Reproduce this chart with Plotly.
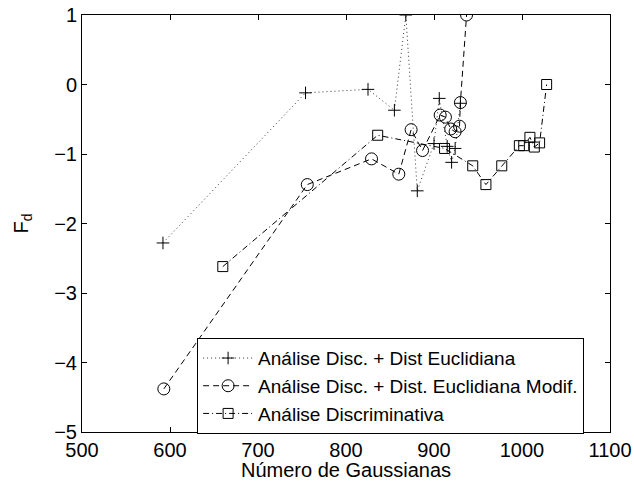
import plotly.graph_objects as go

# Número de Gaussianas vs F_d for three classifiers
x_euclid = [592, 754, 825, 855, 868, 881, 900, 906, 915, 920, 924, 930]
y_euclid = [-2.28, -0.12, -0.07, -0.37, 1.0, -1.53, -0.85, -0.20, -0.89, -1.12, -0.92, -0.27]

x_modif = [593, 756, 829, 860, 874, 887, 907, 913, 919, 924, 929, 930, 937]
y_modif = [-4.38, -1.44, -1.07, -1.29, -0.65, -0.95, -0.44, -0.47, -0.64, -0.68, -0.60, -0.26, 1.0]

x_discr = [660, 836, 912, 944, 959, 977, 997, 1002, 1009, 1014, 1020, 1028]
y_discr = [-2.62, -0.73, -0.92, -1.17, -1.44, -1.17, -0.88, -0.88, -0.76, -0.90, -0.84, 0.0]

names = [
    "Análise Disc. + Dist Euclidiana",
    "Análise Disc. + Dist. Euclidiana Modif.",
    "Análise Discriminativa",
]

x_ticks = [500, 600, 700, 800, 900, 1000, 1100]
y_ticks = [-5, -4, -3, -2, -1, 0, 1]

FONT = "Liberation Sans, Arial, Helvetica, sans-serif"
FS = 20

fig = go.Figure()
fig.add_trace(go.Scatter(
    x=x_euclid, y=y_euclid, name=names[0], mode="lines+markers",
    line=dict(color="#333333", width=1, dash="1px,3px"),
    marker=dict(symbol="cross-thin-open", size=9, color="black",
                line=dict(color="black", width=1)),
))
fig.add_trace(go.Scatter(
    x=x_modif, y=y_modif, name=names[1], mode="lines+markers",
    line=dict(color="black", width=1, dash="6px,4px"),
    marker=dict(symbol="circle-open", size=12, color="black",
                line=dict(color="black", width=1)),
))
fig.add_trace(go.Scatter(
    x=x_discr, y=y_discr, name=names[2], mode="lines+markers",
    line=dict(color="black", width=1, dash="6px,3px,1px,3px"),
    marker=dict(symbol="square-open", size=10, color="black",
                line=dict(color="black", width=1)),
))

axis_common = dict(
    showline=True, linecolor="black", linewidth=1, mirror="ticks",
    ticks="inside", ticklen=5, tickcolor="black", tickwidth=1,
    showgrid=False, zeroline=False, automargin=False,
    tickfont=dict(family=FONT, size=FS, color="black"),
)

fig.update_layout(
    width=634, height=483,
    margin=dict(l=82, r=24, t=15, b=51),
    paper_bgcolor="white", plot_bgcolor="white",
    font=dict(family=FONT, size=FS, color="black"),
    xaxis=dict(range=[500, 1100], tickvals=x_ticks, **axis_common),
    yaxis=dict(range=[-5, 1], tickvals=y_ticks,
               title=dict(text="F<sub>d</sub>", standoff=20,
                          font=dict(family=FONT, size=FS, color="black")),
               **axis_common),
    legend=dict(x=0.218, y=0.225, xanchor="left", yanchor="top",
                bgcolor="white", bordercolor="black", borderwidth=1,
                font=dict(family=FONT, size=19, color="black"),
                tracegroupgap=0, itemwidth=50),
    showlegend=True,
)

# x-axis caption placed below the tick labels
fig.add_annotation(
    text="Número de Gaussianas", xref="paper", yref="paper",
    x=0.5, y=-0.092, xanchor="center", yanchor="middle", showarrow=False,
    borderpad=0, font=dict(family=FONT, size=FS, color="black"),
)

fig.write_html("out.html")
